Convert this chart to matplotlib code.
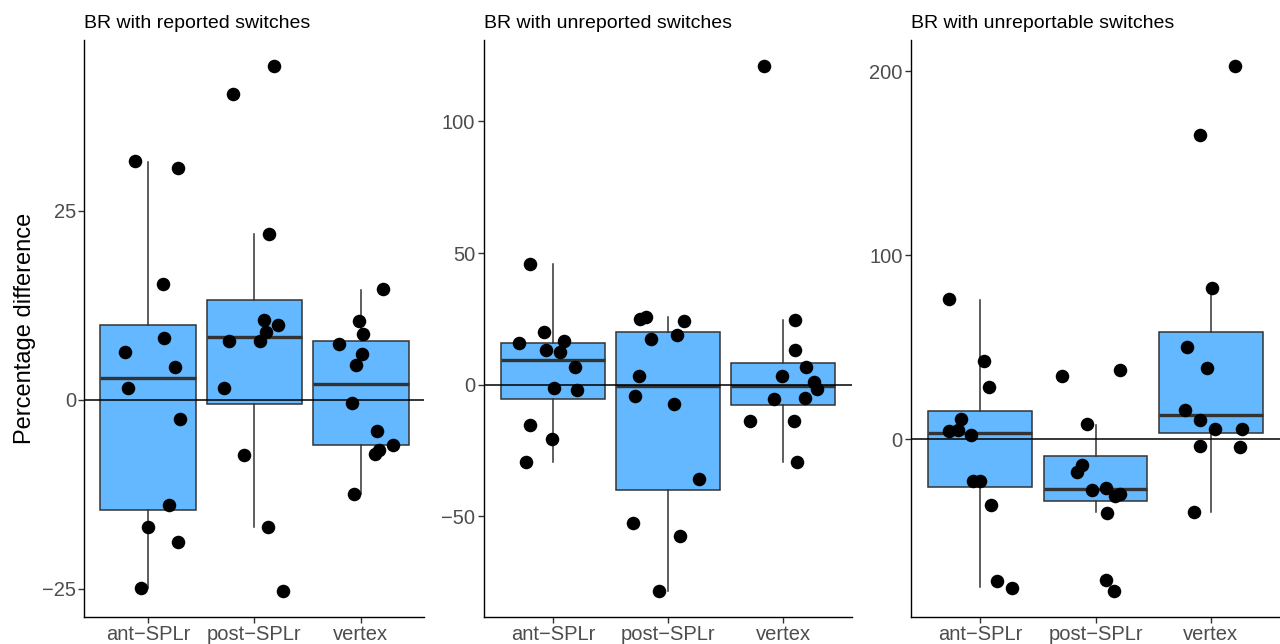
import numpy as np
import matplotlib.pyplot as plt

plt.rcParams['font.family'] = ['Liberation Sans', 'DejaVu Sans']

groups = ["ant−SPLr", "post−SPLr", "vertex"]
titles = ["BR with reported switches", "BR with unreported switches", "BR with unreportable switches"]

# box stats per panel: [ant, post, vertex]
q1 = [[-14.6, -0.6, -6.0], [-5.3, -40.0, -7.8], [-26.2, -33.6, 3.4]]
med = [[2.9, 8.3, 2.1], [9.5, -0.3, -0.3], [3.4, -27.3, 13.2]]
q3 = [[9.9, 13.2, 7.7], [15.9, 20.2, 8.1], [15.4, -8.9, 58.0]]
wlo = [[-24.9, -16.8, -12.5], [-29.2, -78.3, -29.4], [-80.5, -39.8, -39.8]]
whi = [[31.5, 21.9, 14.5], [45.8, 25.6, 24.4], [75.9, 7.8, 82.1]]

# jittered points (values and horizontal offsets) per panel / group
p1_vals = [
    [31.6, 30.7, 15.3, 8.1, 6.3, 4.3, 1.5, -2.6, -13.9, -16.8, -18.8, -24.9],
    [44.2, 40.4, 21.9, 10.5, 9.9, 8.9, 7.8, 7.7, 1.6, -7.3, -16.8, -25.3],
    [14.6, 10.4, 8.7, 7.4, 6.0, 4.6, -0.5, -4.1, -6.0, -6.6, -7.2, -12.5],
]
p1_jit = [
    [-0.12, 0.28, 0.14, 0.15, -0.22, 0.25, -0.19, 0.30, 0.20, 0.0, 0.28, -0.07],
    [0.18, -0.20, 0.14, 0.09, 0.22, 0.11, -0.24, 0.05, -0.29, -0.10, 0.13, 0.27],
    [0.21, -0.02, 0.02, -0.20, 0.01, -0.04, -0.08, 0.15, 0.30, 0.17, 0.13, -0.06],
]
p2_vals = [
    [45.9, 20.0, 15.8, 16.6, 13.1, 12.5, 6.9, -1.2, -1.9, -15.3, -20.6, -29.4],
    [25.0, 25.8, 24.2, 17.3, 18.8, 3.3, -4.4, -7.3, -35.9, -52.5, -57.5, -78.3],
    [121.1, 24.6, 13.1, 6.6, 3.4, 1.1, -1.7, -5.6, -5.1, -13.6, -13.6, -29.4],
]
p2_jit = [
    [-0.20, -0.08, -0.29, 0.10, -0.06, 0.06, 0.19, 0.01, 0.21, -0.20, -0.01, -0.23],
    [-0.24, -0.19, 0.14, -0.15, 0.08, -0.25, -0.29, 0.05, 0.27, -0.30, 0.10, -0.08],
    [-0.17, 0.10, 0.10, 0.20, -0.01, 0.27, 0.29, -0.08, 0.19, -0.29, 0.09, 0.12],
]
p3_vals = [
    [76.1, 42.3, 28.5, 11.0, 4.7, 4.9, 2.0, -22.6, -22.6, -35.8, -76.9, -80.7],
    [34.2, 37.4, 8.3, -14.3, -17.9, -26.6, -27.9, -29.7, -31.1, -40.0, -76.7, -82.5],
    [203.0, 165.6, 82.1, 49.9, 38.5, 15.9, 10.5, 5.6, 5.8, -3.6, -4.4, -39.8],
]
p3_jit = [
    [-0.27, 0.03, 0.08, -0.17, -0.27, -0.19, -0.08, -0.06, 0.0, 0.09, 0.15, 0.28],
    [-0.29, 0.21, -0.07, -0.12, -0.16, 0.09, -0.03, 0.21, 0.17, 0.10, 0.09, 0.16],
    [0.21, -0.09, 0.01, -0.21, -0.03, -0.22, -0.09, 0.04, 0.27, -0.09, 0.25, -0.15],
]
pts_vals = [p1_vals, p2_vals, p3_vals]
pts_jit = [p1_jit, p2_jit, p3_jit]

ylims = [(-28.7, 47.6), (-88.0, 130.9), (-96.4, 217.0)]
yticks = [[-25, 0, 25], [-50, 0, 50, 100], [0, 100, 200]]

fig = plt.figure(figsize=(12.8, 6.44), dpi=100)
W, H = 1280, 644
boxes_px = [(84.3, 424.5), (483.7, 852.3), (911, 1280)]
top_px, bot_px = 40, 616.5

for i in range(3):
    l, r = boxes_px[i]
    ax = fig.add_axes([l / W, (H - bot_px) / H, (r - l) / W, (bot_px - top_px) / H])
    stats = []
    for j in range(3):
        stats.append(dict(q1=q1[i][j], med=med[i][j], q3=q3[i][j],
                          whislo=wlo[i][j], whishi=whi[i][j], fliers=[]))
    ax.bxp(stats, positions=[1, 2, 3], widths=0.9, patch_artist=True,
           showfliers=False, showcaps=False,
           boxprops=dict(facecolor='#63B8FF', edgecolor='#333333', linewidth=1.1),
           medianprops=dict(color='#333333', linewidth=2.4),
           whiskerprops=dict(color='#333333', linewidth=1.1), zorder=2)
    ax.axhline(0, color='black', linewidth=1.1, zorder=3)
    for j in range(3):
        x = np.array(pts_jit[i][j]) + j + 1
        ax.scatter(x, pts_vals[i][j], s=95, color='black', zorder=4, linewidths=0)
    ax.set_xlim(0.4, 3.6)
    ax.set_ylim(*ylims[i])
    ax.set_xticks([1, 2, 3])
    ax.set_xticklabels(groups)
    ax.set_yticks(yticks[i])
    ax.set_yticklabels([str(t).replace('-', '−') for t in yticks[i]])
    for s in ['top', 'right']:
        ax.spines[s].set_visible(False)
    for s in ['left', 'bottom']:
        ax.spines[s].set_linewidth(1.0)
        ax.spines[s].set_color('black')
    ax.tick_params(axis='both', length=4, width=1.0, color='#333333',
                   labelcolor='#4D4D4D', labelsize=14.5, pad=2)
    ax.set_title(titles[i], loc='left', fontsize=14, pad=9, color='black')
    if i == 0:
        ax.set_ylabel('Percentage difference', fontsize=17, labelpad=4)

fig.savefig('out.png', dpi=100)
